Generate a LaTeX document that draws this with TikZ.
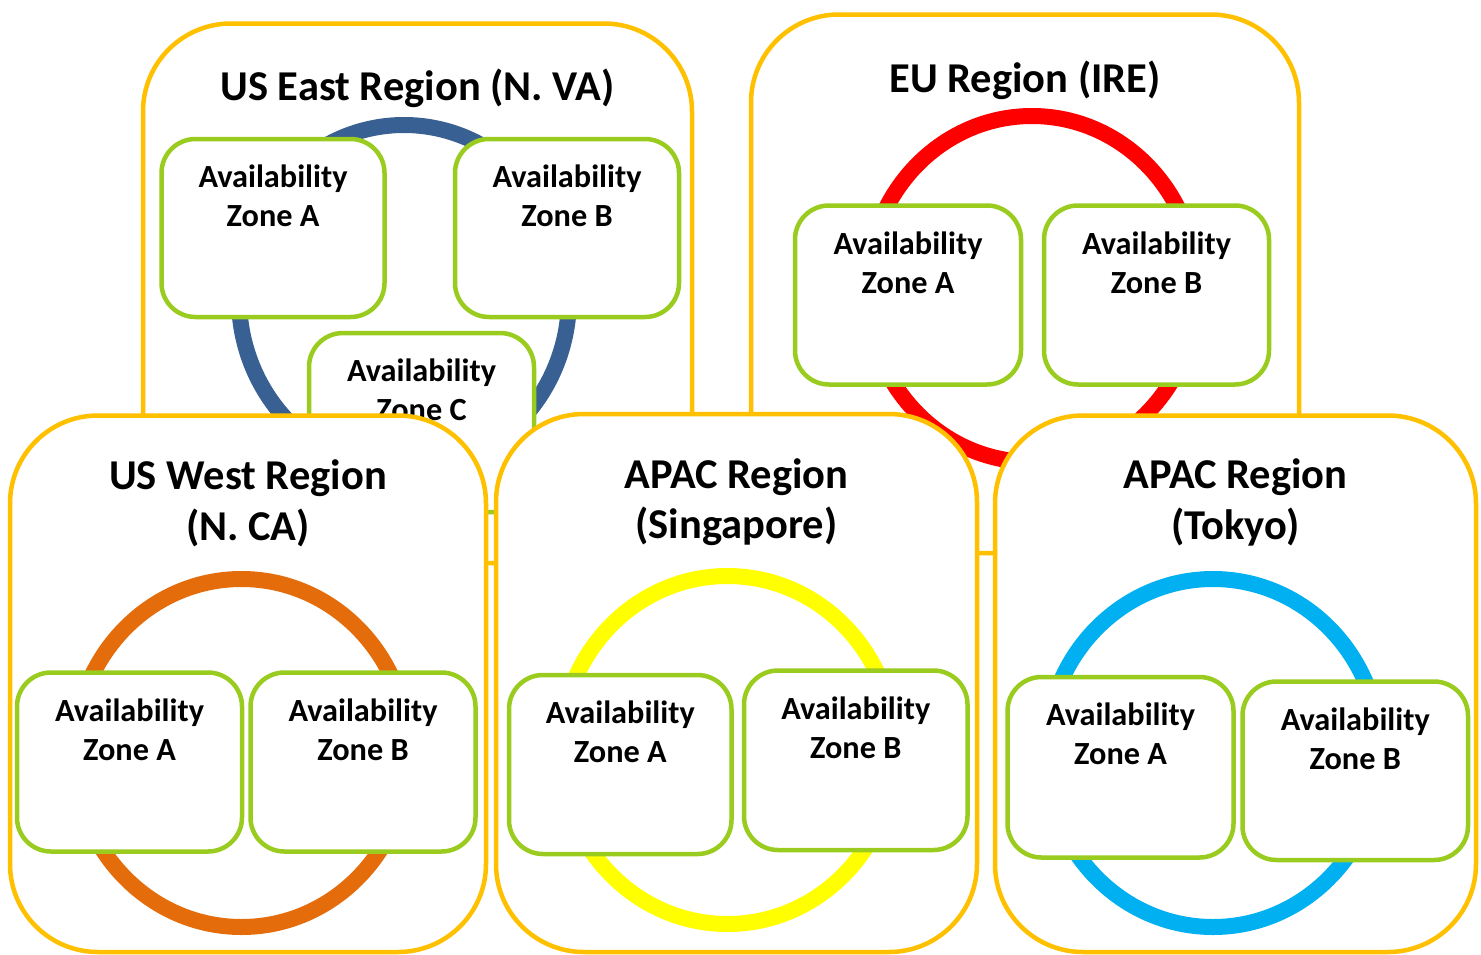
\documentclass[tikz,border=0pt]{standalone}
\usepackage{fontspec}
\setmainfont{Carlito}
\definecolor{regionc}{HTML}{FFC000}
\definecolor{zonec}{HTML}{99CC1F}
\definecolor{bluering}{HTML}{386092}
\definecolor{redring}{HTML}{FF0000}
\definecolor{orangering}{HTML}{E46C0A}
\definecolor{yellowring}{HTML}{FFFF00}
\definecolor{cyanring}{HTML}{00B0F0}
\tikzset{
  region/.style={rectangle, draw=regionc, line width=4.5pt, fill=white, rounded corners=88pt, inner sep=0pt},
  zone/.style={rectangle, draw=zonec, line width=4.5pt, fill=white, rounded corners=34pt, inner sep=0pt},
  ring/.style={line width=16pt},
  ttl/.style={font=\fontsize{42.5}{51}\selectfont\bfseries, inner sep=0pt, anchor=base},
  zt/.style={font=\fontsize{32.3}{39}\selectfont\bfseries, inner sep=0pt, anchor=base},
}
\newcommand\regbox[5]{%
  \node[region, minimum width={(#4-#2)*1pt}, minimum height={(#5-#3)*1pt}] (#1) at ({(#2+#4)/2},{(#3+#5)/2}) {};
}
\newcommand\zonebox[6]{%
  \node[zone, minimum width={(#4-#2)*1pt}, minimum height={(#5-#3)*1pt}] (#1) at ({(#2+#4)/2},{(#3+#5)/2}) {};
  \node[zt] (#1-l1) at ([yshift=-51pt]#1.north) {Availability};
  \node[zt] (#1-l2) at ([yshift=-90pt]#1.north) {Zone #6};
}
\begin{document}
\begin{tikzpicture}[x=1pt,y=-1pt]
\useasboundingbox (0,0) rectangle (1481,954);
\fill[white] (0,0) rectangle (1481,954);

% US East
\regbox{useast}{143}{23.5}{692}{563}
\draw[ring, draw=bluering] (404,298) ellipse [x radius=165, y radius=173];
\zonebox{usea}{161.5}{139}{384.5}{317}{A}
\zonebox{useb}{455}{139}{679}{317}{B}
\zonebox{usec}{309}{333}{534}{512}{C}
\node[ttl] (useastT) at (417.5,100) {US East Region (N. VA)};

% EU
\regbox{eu}{751}{14.5}{1299}{553}
\draw[ring, draw=redring] (1032,289) ellipse [x radius=165, y radius=173];
\zonebox{eua}{795}{205.5}{1021}{384.5}{A}
\zonebox{eub}{1044}{205.5}{1269}{384.5}{B}
\node[ttl] (euT) at (1025,92) {EU Region (IRE)};

% US West
\regbox{uswest}{10}{415.5}{486}{952}
\draw[ring, draw=orangering] (241.5,753) ellipse [x radius=167, y radius=174];
\zonebox{uswa}{17}{672.5}{242}{851.5}{A}
\zonebox{uswb}{250.5}{672.5}{475.5}{851.5}{B}
\node[ttl] (uswestT1) at (248,489) {US West Region};
\node[ttl] (uswestT2) at (248,540) {(N. CA)};

% APAC Singapore
\regbox{sing}{496}{414}{977}{952}
\draw[ring, draw=yellowring] (727.5,750) ellipse [x radius=167, y radius=174];
\zonebox{singa}{509}{675}{731.5}{854}{A}
\zonebox{singb}{744}{670.5}{967.5}{850}{B}
\node[ttl] (singT1) at (736.5,488) {APAC Region};
\node[ttl] (singT2) at (736.5,538) {(Singapore)};

% APAC Tokyo
\regbox{tokyo}{995}{415.5}{1476}{952}
\draw[ring, draw=cyanring] (1213,753) ellipse [x radius=167, y radius=174];
\zonebox{tokya}{1007.5}{677}{1233.5}{857.5}{A}
\zonebox{tokyb}{1242.5}{681.5}{1468}{860}{B}
\node[ttl] (tokyoT1) at (1235.5,488) {APAC Region};
\node[ttl] (tokyoT2) at (1235.5,539) {(Tokyo)};
\end{tikzpicture}
\end{document}
